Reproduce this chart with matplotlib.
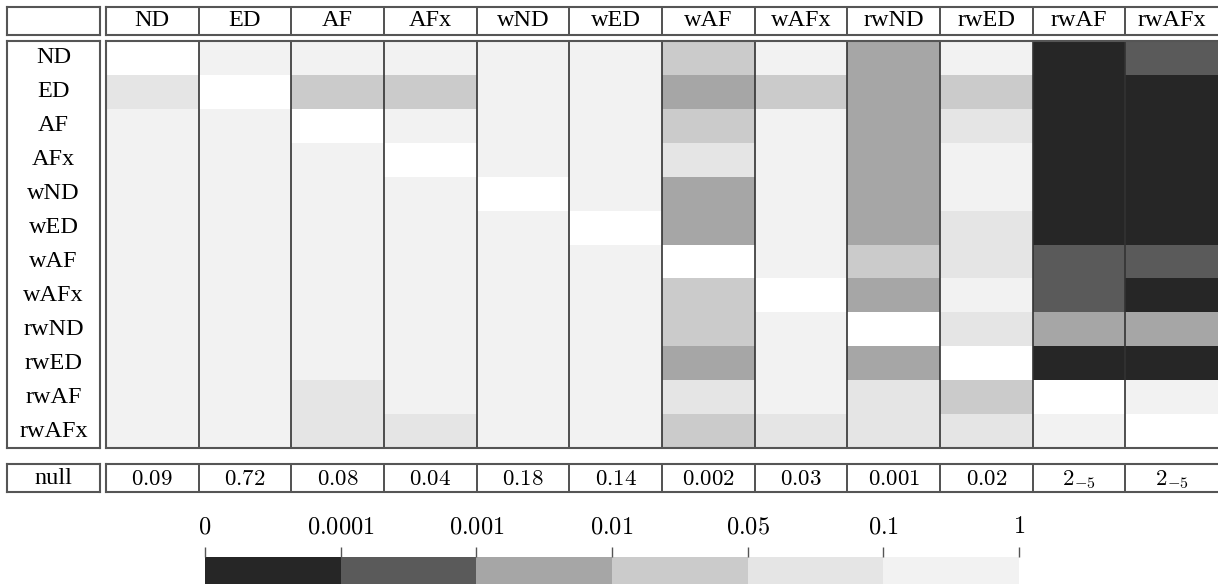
import numpy as np
import matplotlib.pyplot as plt
import matplotlib.cm as cm
from matplotlib.colors import ListedColormap, BoundaryNorm

plt.rcParams['font.family'] = ['Liberation Serif', 'DejaVu Serif']
plt.rcParams['mathtext.fontset'] = 'cm'

# Data
methods = ['ND', 'ED', 'AF', 'AFx', 'wND', 'wED', 'wAF', 'wAFx', 'rwND', 'rwED', 'rwAF', 'rwAFx']
null_pvals = ['0.09', '0.72', '0.08', '0.04', '0.18', '0.14', '0.002', '0.03', '0.001', '0.02', '2_{-5}', '2_{-5}']
bounds = [0, 0.0001, 0.001, 0.01, 0.05, 0.1, 1]
bound_labels = ['0', '0.0001', '0.001', '0.01', '0.05', '0.1', '1']
shades = ['#262626', '#5a5a5a', '#a6a6a6', '#cbcbcb', '#e5e5e5', '#f2f2f2']
nan = np.nan
# pairwise p-values (row vs column), estimated within the shaded bins
pvals = [
    [nan, .5, .5, .5, .5, .5, .03, .5, .005, .5, 5e-5, 5e-4],
    [.07, nan, .03, .03, .5, .5, .005, .03, .005, .03, 5e-5, 5e-5],
    [.5, .5, nan, .5, .5, .5, .03, .5, .005, .07, 5e-5, 5e-5],
    [.5, .5, .5, nan, .5, .5, .07, .5, .005, .5, 5e-5, 5e-5],
    [.5, .5, .5, .5, nan, .5, .005, .5, .005, .5, 5e-5, 5e-5],
    [.5, .5, .5, .5, .5, nan, .005, .5, .005, .07, 5e-5, 5e-5],
    [.5, .5, .5, .5, .5, .5, nan, .5, .03, .07, 5e-4, 5e-4],
    [.5, .5, .5, .5, .5, .5, .03, nan, .005, .5, 5e-4, 5e-5],
    [.5, .5, .5, .5, .5, .5, .03, .5, nan, .07, .005, .005],
    [.5, .5, .5, .5, .5, .5, .005, .5, .005, nan, 5e-5, 5e-5],
    [.5, .5, .07, .5, .5, .5, .07, .5, .07, .03, nan, .5],
    [.5, .5, .07, .07, .5, .5, .03, .07, .07, .07, .5, nan],
]

W, H = 1218, 584
fig = plt.figure(figsize=(W / 100, H / 100), dpi=100)

def box(x0, y0, x1, y1):
    ax = fig.add_axes([x0 / W, 1 - y1 / H, (x1 - x0) / W, (y1 - y0) / H])
    ax.set_xticks([])
    ax.set_yticks([])
    for s in ax.spines.values():
        s.set_color('#555555')
        s.set_linewidth(1.5)
    return ax

def columns(ax):
    ax.set_xlim(0, len(methods))
    ax.spines['right'].set_visible(False)
    ax.vlines(range(1, len(methods)), 0, 1, transform=ax.get_xaxis_transform(),
              color='#333333', lw=1.2)

cmap = ListedColormap(shades)
cmap.set_bad('white')
norm = BoundaryNorm(bounds, cmap.N)
n = len(methods)

# header row
box(7, 7, 100, 35)
hc = box(106, 7, W, 35)
columns(hc)
for i, m in enumerate(methods):
    hc.text(i + 0.5, 0.5, m, ha='center', va='center', fontsize=17.5,
            transform=hc.get_xaxis_transform())

# main table
lab = box(7, 41, 100, 448)
lab.set_ylim(n, 0)
for i, m in enumerate(methods):
    lab.text(0.5, i + 0.5, m, ha='center', va='center', fontsize=17.5,
             transform=lab.get_yaxis_transform())

ax = box(106, 41, W, 448)
ax.pcolormesh(np.ma.masked_invalid(np.array(pvals)), cmap=cmap, norm=norm)
ax.set_ylim(n, 0)
columns(ax)

# null row
nl = box(7, 464, 100, 492)
nl.text(0.5, 0.5, 'null', ha='center', va='center', fontsize=17.5, transform=nl.transAxes)
nc = box(106, 464, W, 492)
columns(nc)
for i, v in enumerate(null_pvals):
    nc.text(i + 0.5, 0.45, f'${v}$', ha='center', va='center', fontsize=16.5,
            transform=nc.get_xaxis_transform())

# colour key
cax = fig.add_axes([205 / W, 1 - 592 / H, (1019 - 205) / W, 35 / H])
cb = fig.colorbar(cm.ScalarMappable(norm=norm, cmap=cmap), cax=cax,
                  orientation='horizontal', ticks=bounds)
cb.outline.set_visible(False)
cax.xaxis.set_ticks_position('top')
cax.set_xticklabels([f'${b}$' for b in bound_labels])
cax.tick_params(axis='x', length=7.5, width=1, color='#555555', labelsize=17.5, pad=6)

fig.savefig('out.png', dpi=100)
